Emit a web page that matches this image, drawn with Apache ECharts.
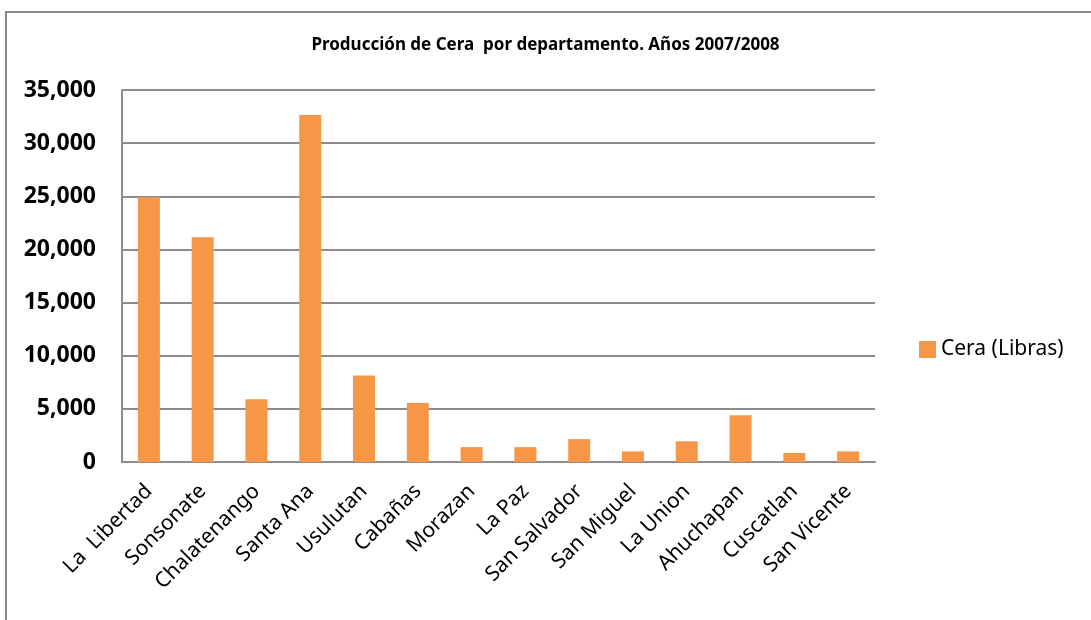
<!DOCTYPE html>
<html>
<head>
<meta charset="utf-8">
<script src="https://cdn.jsdelivr.net/npm/echarts@6/dist/echarts.min.js"></script>
<style>
  html, body { margin: 0; padding: 0; background: #fff; }
  #chart { width: 1091px; height: 620px; }
</style>
</head>
<body>
<div id="chart"></div>
<script>
const departamentos = ['La  Libertad', 'Sonsonate', 'Chalatenango', 'Santa Ana', 'Usulutan', 'Cabañas', 'Morazan', 'La Paz', 'San Salvador', 'San Miguel', 'La Union', 'Ahuchapan', 'Cuscatlan', 'San Vicente'];
const ceraLibras = [24900, 21150, 5900, 32650, 8150, 5550, 1400, 1400, 2150, 1000, 1950, 4400, 850, 1000];
const yTicks = [0, 5000, 10000, 15000, 20000, 25000, 30000, 35000];

const chart = echarts.init(document.getElementById('chart'));
const font = '"Noto Sans", sans-serif';
const gridColor = '#8c8c8c';

chart.setOption({
  animation: false,
  textStyle: { fontFamily: font },
  title: {
    text: 'Producción de Cera  por departamento. Años 2007/2008',
    left: 'center',
    top: 32,
    textStyle: { fontFamily: font, fontSize: 17, fontWeight: 'bold', color: '#000' }
  },
  // outer chart frame, runs off the right and bottom edges
  graphic: [{
    type: 'rect',
    shape: { x: 6, y: 12, width: 1100, height: 620 },
    style: { fill: 'none', stroke: '#8a8a8a', lineWidth: 2 },
    silent: true
  }],
  legend: {
    data: ['Cera (Libras)'],
    left: 914,
    top: 334,
    itemWidth: 17,
    itemHeight: 17,
    itemGap: 8,
    icon: 'rect',
    textStyle: { fontFamily: font, fontSize: 21, color: '#000', padding: [0, 0, 0, 0] }
  },
  grid: { left: 122, right: 216, top: 90, bottom: 158 },
  xAxis: {
    type: 'category',
    data: departamentos,
    axisLine: { lineStyle: { color: gridColor, width: 2 } },
    axisTick: { show: false },
    axisLabel: {
      interval: 0,
      rotate: 45,
      margin: 26,
      fontFamily: font,
      fontSize: 21,
      color: '#000'
    }
  },
  yAxis: {
    type: 'value',
    min: yTicks[0],
    max: yTicks[yTicks.length - 1],
    interval: 5000,
    axisLine: { show: true, lineStyle: { color: gridColor, width: 2 } },
    axisTick: { show: false },
    splitLine: { lineStyle: { color: gridColor, width: 2 } },
    axisLabel: {
      margin: 26,
      fontFamily: font,
      fontSize: 23,
      fontWeight: 'bold',
      color: '#000',
      formatter: v => v.toLocaleString('en-US')
    }
  },
  series: [{
    name: 'Cera (Libras)',
    type: 'bar',
    data: ceraLibras,
    barWidth: 22,
    itemStyle: { color: '#f79646' }
  }]
});
</script>
</body>
</html>
